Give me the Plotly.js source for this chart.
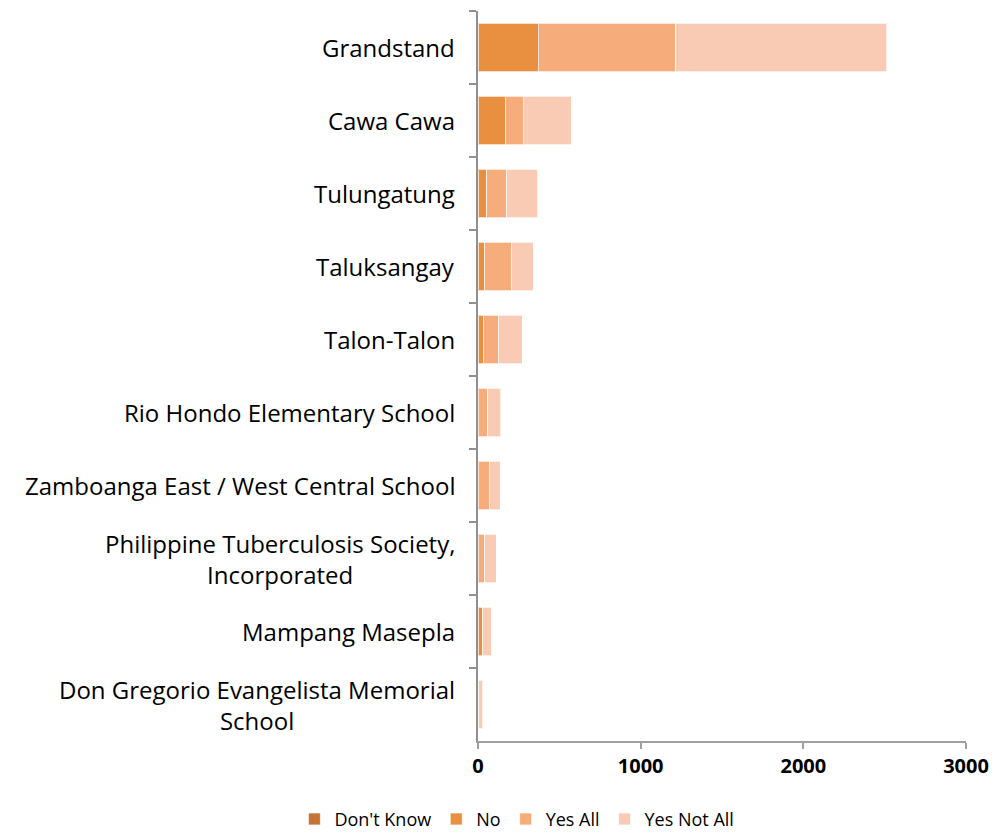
<!DOCTYPE html>
<html>
<head>
<meta charset="utf-8">
<script src="https://cdn.plot.ly/plotly-3.0.1.min.js"></script>
<style>html,body{margin:0;padding:0;background:#fff}#chart{width:994px;height:836px}</style>
</head>
<body>
<div id="chart"></div>
<script>
const categories = [
  "Grandstand",
  "Cawa Cawa",
  "Tulungatung",
  "Taluksangay",
  "Talon-Talon",
  "Rio Hondo Elementary School",
  "Zamboanga East / West Central School",
  "Philippine Tuberculosis Society,<br>Incorporated",
  "Mampang Masepla",
  "Don Gregorio Evangelista Memorial<br>School"
];
const dontKnow = [0, 0, 0, 0, 0, 0, 0, 0, 0, 0];
const no       = [369, 166, 55, 43, 31, 0, 0, 0, 25, 0];
const yesAll   = [848, 111, 123, 160, 98, 61, 68, 43, 5, 5];
const yesNotAll= [1297, 295, 190, 137, 143, 80, 68, 68, 50, 24];
const seriesNames = ["Don't Know", "No", "Yes All", "Yes Not All"];
const seriesColors = ["#C47535", "#E8903F", "#F7AC7B", "#F9CBB4"];
const xTicks = [0, 1000, 2000, 3000];

const FONT = "Open Sans, Liberation Sans, Arial, sans-serif";

const seriesData = [dontKnow, no, yesAll, yesNotAll];
const traces = seriesData.map((vals, i) => ({
  type: "bar",
  orientation: "h",
  name: seriesNames[i],
  y: categories,
  x: vals,
  marker: {color: seriesColors[i], line: {color: "rgba(255,255,255,0.7)", width: 1}},
  hoverinfo: "x+name"
}));

const annotations = categories.map(c => ({
  xref: "paper", yref: "y", x: 0, y: c,
  xanchor: "right", yanchor: "middle", xshift: -21,
  text: c, showarrow: false, align: "center",
  font: {family: FONT, size: 24, color: "#000"}
}));

const layout = {
  width: 994, height: 836,
  margin: {l: 478, r: 28, t: 11, b: 95, autoexpand: false},
  barmode: "stack",
  bargap: 0.33,
  paper_bgcolor: "#fff",
  plot_bgcolor: "#fff",
  showlegend: true,
  legend: {
    orientation: "h",
    xref: "container", yref: "container",
    x: 0.52, xanchor: "center",
    y: 0.02, yanchor: "middle",
    font: {family: FONT, size: 18, color: "#000"},
    traceorder: "normal",
    itemwidth: 30
  },
  xaxis: {
    range: [0, 3000],
    tickvals: xTicks,
    ticktext: xTicks.map(String),
    showgrid: false,
    zeroline: false,
    showline: true,
    linecolor: "#a0a0a0",
    linewidth: 2,
    ticks: "outside",
    ticklen: 6,
    tickwidth: 2,
    tickcolor: "#a0a0a0",
    tickfont: {family: FONT, size: 20, color: "#000", weight: "bold"},
    fixedrange: true
  },
  yaxis: {
    type: "category",
    autorange: "reversed",
    showticklabels: false,
    showgrid: false,
    zeroline: false,
    showline: true,
    linecolor: "#909090",
    linewidth: 2,
    ticks: "outside",
    tickson: "boundaries",
    ticklen: 7,
    tickwidth: 2,
    tickcolor: "#909090",
    fixedrange: true
  },
  annotations: annotations
};

Plotly.newPlot("chart", traces, layout, {displayModeBar: false, staticPlot: true});
</script>
</body>
</html>
